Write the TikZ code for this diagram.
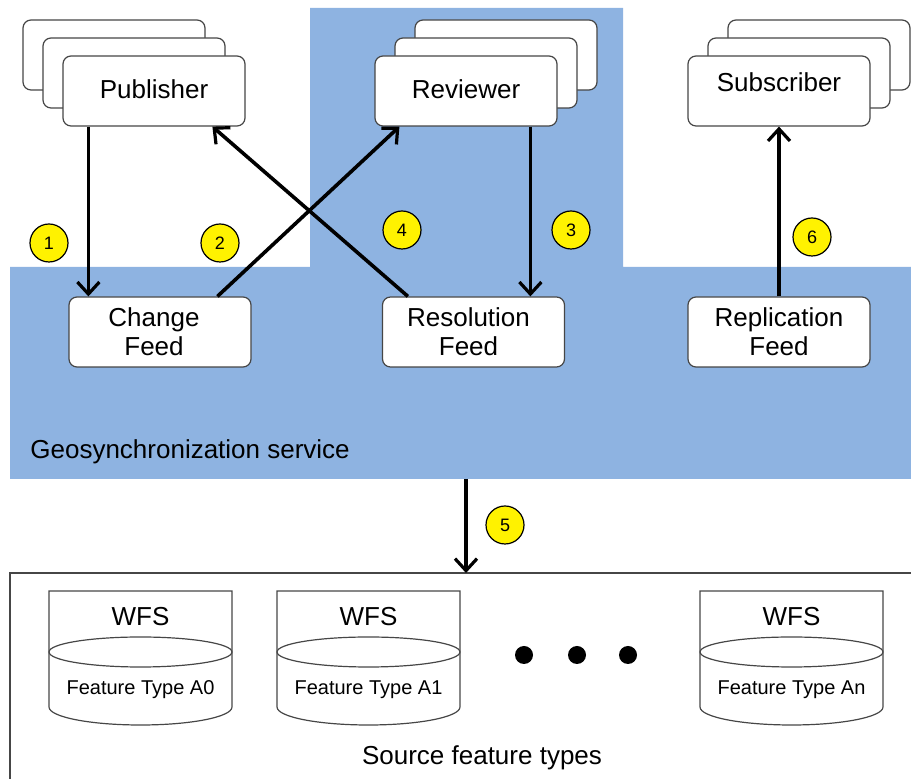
\documentclass[tikz,border=0pt]{standalone}
\usepackage{fontspec}
\setmainfont{Liberation Sans}
\usepackage{xcolor}
\usepackage{tikz}
\usetikzlibrary{arrows.meta}
\definecolor{svcblue}{RGB}{142,179,225}
\definecolor{boxgray}{RGB}{70,70,70}
\tikzset{
    Actor/.style = {draw=boxgray,line width=0.6pt,fill=white,rounded corners=4pt,
         minimum width=91pt,minimum height=35pt,inner sep=0pt,
         font=\fontsize{13}{14}\selectfont},
    Feed/.style = {Actor,align=center,font=\fontsize{13}{14.5}\selectfont},
    Badge/.style = {circle,draw,line width=0.6pt,fill=yellow,minimum size=19pt,inner sep=0pt,
         font=\fontsize{9}{10}\selectfont},
    Flow/.style = {line width=1.8pt,
         -{Straight Barb[length=6pt,width=11pt,line width=1.6pt]}}
}
\begin{document}
\begin{tikzpicture}[x=0.5pt,y=-0.5pt]
        \useasboundingbox (0,0) rectangle (911,779);
        \fill[svcblue] (10,267) -- (310,267) -- (310,8) -- (623,8) -- (623,267)
            -- (911,267) -- (911,479) -- (10,479) -- cycle;
        \node[anchor=west,inner sep=0pt,font=\fontsize{13}{14}\selectfont] (Svc) at (30,452) {Geosynchronization service};
        \draw[boxgray,line width=0.8pt] (911,573) -- (10,573) -- (10,779);
        \node[font=\fontsize{13}{14}\selectfont] (Src) at (482,758) {Source feature types};
        \foreach \k in {2,1}
            {\node[Actor] (Pub\k) at ({154-20*\k},{91-18*\k}) {};
             \node[Actor] (Rev\k) at ({466+20*\k},{91-18*\k}) {};
             \node[Actor] (Sub\k) at ({779+20*\k},{91-18*\k}) {};}
        \node[Actor,text depth=2pt] (Pub) at (154,91) {Publisher};
        \node[Actor,text depth=2pt] (Rev) at (466,91) {Reviewer};
        \node[Actor,text depth=9pt] (Sub) at (779,91) {Subscriber};
        \node[Feed] (Chg) at (160,332) {\hspace*{-6pt}Change\\\hspace*{-6pt}Feed};
        \node[Feed] (Res) at (473.5,332) {\hspace*{-5pt}Resolution\\\hspace*{-5pt}Feed};
        \node[Feed] (Rep) at (779,332) {Replication\\Feed};
        \coordinate (SvcOut) at (466,479);
        \coordinate (SrcIn) at (466,573);
        \draw[Flow] ([xshift=13pt]Pub.south west) -- ([xshift=10pt]Chg.north west);
        \draw[Flow] ([xshift=74.5pt]Chg.north west) -- ([xshift=12.5pt]Rev.south west);
        \draw[Flow] ([xshift=78pt]Rev.south west) -- ([xshift=74.25pt]Res.north west);
        \draw[Flow] ([xshift=13pt]Res.north west) -- ([xshift=75pt]Pub.south west);
        \draw[Flow] (SvcOut) -- (SrcIn);
        \draw[Flow] (Rep) -- (Sub);
        \node[Badge] (b1) at (49,243) {1};
        \node[Badge] (b2) at (220,243) {2};
        \node[Badge] (b3) at (571,230) {3};
        \node[Badge] (b4) at (402,230) {4};
        \node[Badge] (b5) at (505,525) {5};
        \node[Badge] (b6) at (812,237) {6};
        \foreach \x/\t in {49/A0,277/A1,700/An}
            {\draw[boxgray,line width=0.6pt] (\x,707) -- (\x,591) -- (\x+183,591) -- (\x+183,707)
                 arc[start angle=0,end angle=180,x radius=91.5,y radius=18];
             \draw[boxgray,line width=0.6pt] (\x+91.5,652) ellipse[x radius=91.5,y radius=15];
             \node[font=\fontsize{13}{14}\selectfont] (wfs\t) at (\x+91.5,617) {WFS};
             \node[font=\fontsize{10}{11}\selectfont] (ft\t) at (\x+91.5,690) {Feature Type \t};}
        \foreach \x in {524,577,628}
            {\fill (\x,655) circle[radius=9];}
        \end{tikzpicture}
\end{document}
